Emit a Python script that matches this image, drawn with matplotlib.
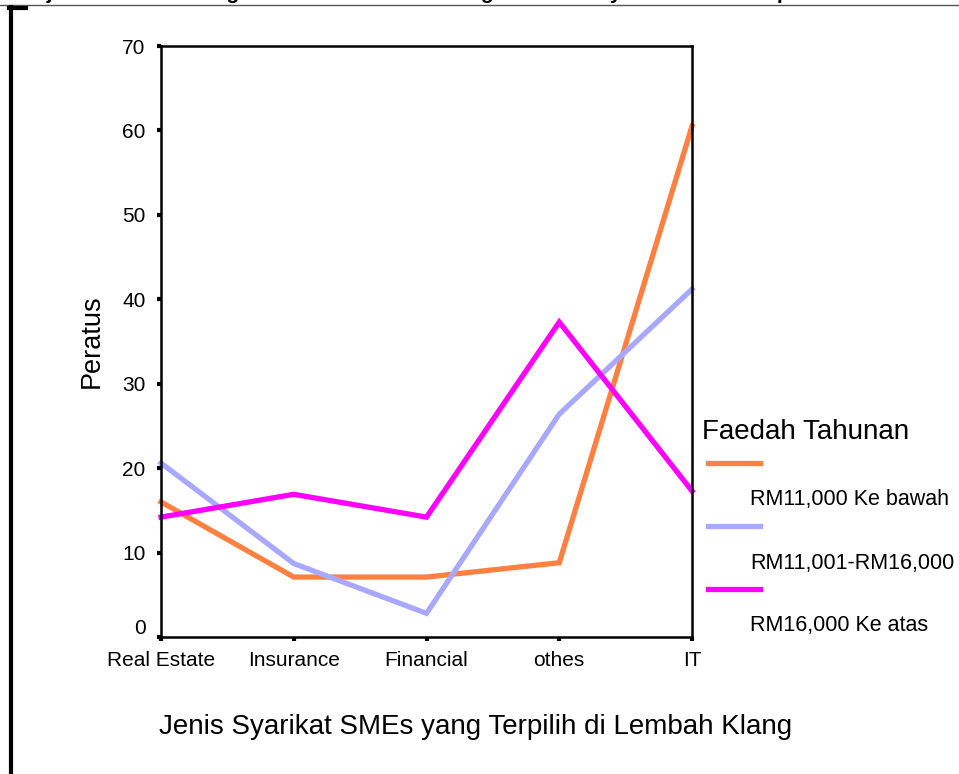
import matplotlib.pyplot as plt
import matplotlib.transforms as mtransforms
from matplotlib.lines import Line2D

plt.rcParams['font.family'] = ['Liberation Sans', 'DejaVu Sans']

categories = ["Real Estate", "Insurance", "Financial", "othes", "IT"]
series_names = ["RM11,000 Ke bawah", "RM11,001-RM16,000", "RM16,000 Ke atas"]
bawah = [16.0, 7.1, 7.1, 8.8, 60.5]
tengah = [20.6, 8.7, 2.8, 26.4, 41.2]
atas = [14.2, 16.9, 14.2, 37.3, 17.3]
colors = ["#FF8040", "#A8A8FF", "#FF00FF"]

fig = plt.figure(figsize=(9.59, 7.74), dpi=100)
ax = fig.add_axes([161 / 959, 1 - 637 / 774, 531 / 959, 591 / 774])

x = range(len(categories))
for vals, c in zip([bawah, tengah, atas], colors):
    ax.plot(x, vals, color=c, lw=3.8, solid_joinstyle='miter', clip_on=False)

ax.set_xlim(0, 4)
ax.set_ylim(0, 70)
ax.set_yticks(range(0, 71, 10))
ax.set_xticks(list(x))
ax.set_xticklabels(categories)
for s in ax.spines.values():
    s.set_linewidth(1.8)
ax.tick_params(axis='both', length=3, width=3, labelsize=15)
ax.tick_params(axis='x', pad=7)
ax.tick_params(axis='y', pad=8)

# the "0" label sits a little above its tick
zero_lbl = ax.get_yticklabels()[0]
zero_lbl.set_transform(zero_lbl.get_transform() +
                       mtransforms.ScaledTranslation(0, 10 / 100, fig.dpi_scale_trans))

ax.set_ylabel("Peratus", fontsize=19.5, labelpad=13)
fig.text(476 / 959, 1 - 727 / 774, "Jenis Syarikat SMEs yang Terpilih di Lembah Klang",
         fontsize=20, ha='center', va='center')

# legend drawn by hand: line on one row, its label on the row below
fig.text(702 / 959, 1 - 432 / 774, "Faedah Tahunan", fontsize=20, ha='left', va='center')
for i, (name, c) in enumerate(zip(series_names, colors)):
    ly = 463 + i * 63
    fig.add_artist(Line2D([708 / 959, 760 / 959], [1 - ly / 774, 1 - ly / 774],
                          color=c, lw=3.8, transform=fig.transFigure))
    fig.text(750 / 959, 1 - (ly + 37) / 774, name, fontsize=15.5, ha='left', va='center')

# page frame and clipped caption above it
fig.add_artist(Line2D([0, 1], [1 - 5 / 774, 1 - 5 / 774], color='#555555', lw=1,
                      transform=fig.transFigure))
fig.add_artist(Line2D([11 / 959, 11 / 959], [1 - 7 / 774, 0], color='black', lw=3,
                      transform=fig.transFigure))
fig.add_artist(Line2D([9 / 959, 26 / 959], [1 - 8 / 774, 1 - 8 / 774], color='black', lw=3,
                      transform=fig.transFigure))
fig.text(20 / 959, 1 + 1 / 774, "Rajah 4.7: Perbandingan Faedah Tahunan Mengikut Jenis Syarikat SMEs Terpilih",
         fontsize=15, fontweight='bold', ha='left', va='baseline')

fig.savefig("out.png", dpi=100)
